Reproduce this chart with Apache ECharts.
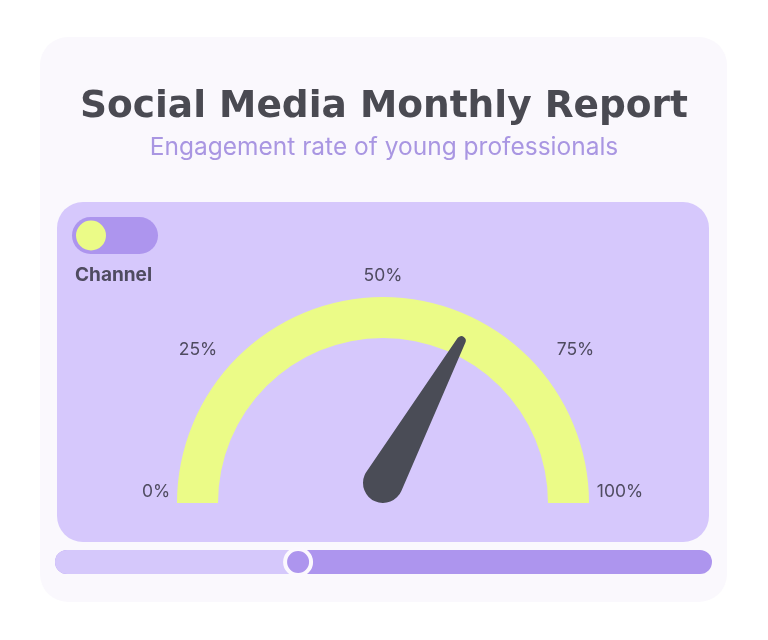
<!DOCTYPE html>
<html>
<head>
<meta charset="utf-8">
<script src="https://cdn.jsdelivr.net/npm/echarts@6/dist/echarts.min.js"></script>
<style>
html,body{margin:0;padding:0;background:#ffffff;}
#main{width:768px;height:640px;}
</style>
</head>
<body>
<div id="main"></div>
<script>
// ---- data ----
var chartTitle = 'Social Media Monthly Report';
var chartSubtitle = 'Engagement rate of young professionals';
var seriesName = 'Channel';
var gaugeValue = [66];
var gaugeMin = 0;
var gaugeMax = 100;
var tickLabels = ['0%', '25%', '50%', '75%', '100%'];
var sliderPosition = [0.37];

// ---- colours ----
var C = {
  card: '#faf8fd', panel: '#d6c8fc', yellow: '#ebfb87', needle: '#4a4c56',
  title: '#4a4a52', subtitle: '#a996e2', label: '#4f4b60',
  toggle: '#ad95ee', sliderLight: '#d5c8fb', sliderDark: '#ad95ee'
};

var chart = echarts.init(document.getElementById('main'), null, {renderer: 'canvas'});

var lblFont = {color: C.label, fontFamily: 'Inter', fontSize: 17.5};
var richLabels = {
  t0: Object.assign({padding: [0, 0, 22, 0]}, lblFont),
  t1: Object.assign({padding: [15, 49, 0, 0]}, lblFont),
  t2: Object.assign({padding: [0, 0, 0, 0]}, lblFont),
  t3: Object.assign({padding: [15, 0, 0, 64]}, lblFont),
  t4: Object.assign({padding: [0, 0, 22, 20]}, lblFont)
};

var trackX0 = 55, trackX1 = 712;
var handleX = trackX0 + (trackX1 - trackX0) * sliderPosition[0];

var option = {
  backgroundColor: '#ffffff',
  title: {
    text: chartTitle,
    subtext: chartSubtitle,
    left: 'center',
    top: 83,
    itemGap: 9,
    textStyle: {fontFamily: 'DejaVu Sans', fontWeight: 700, fontSize: 37.5, color: C.title},
    subtextStyle: {fontFamily: 'Inter', fontWeight: 400, fontSize: 24.5, color: C.subtitle}
  },
  graphic: [
    {type: 'rect', z: -10, shape: {x: 40, y: 37, width: 687, height: 565, r: 28}, style: {fill: C.card}},
    {type: 'rect', z: -9, shape: {x: 57, y: 202, width: 652, height: 340, r: 26}, style: {fill: C.panel}},
    {type: 'rect', z: -8, shape: {x: 72, y: 217, width: 86, height: 37, r: 18.5}, style: {fill: C.toggle}},
    {type: 'circle', z: -7, shape: {cx: 91, cy: 235.5, r: 15}, style: {fill: C.yellow}},
    {type: 'text', z: -7, x: 75, y: 275, style: {text: seriesName, fontFamily: 'Inter', fontWeight: 700, fontSize: 19, fill: C.label, verticalAlign: 'middle', align: 'left'}},
    {type: 'rect', z: -8, shape: {x: trackX0, y: 550, width: trackX1 - trackX0, height: 24, r: 12}, style: {fill: C.sliderDark}},
    {type: 'rect', z: -7, shape: {x: trackX0, y: 550, width: handleX - trackX0, height: 24, r: [12, 0, 0, 12]}, style: {fill: C.sliderLight}},
    {type: 'circle', z: -6, shape: {cx: handleX, cy: 562, r: 13}, style: {fill: C.sliderDark, stroke: '#fbf8fe', lineWidth: 4}}
  ],
  series: [
    {
      type: 'gauge',
      name: seriesName,
      center: [383, 503],
      radius: 206,
      startAngle: 180,
      endAngle: 0,
      min: gaugeMin,
      max: gaugeMax,
      splitNumber: tickLabels.length - 1,
      axisLine: {show: true, roundCap: false, lineStyle: {width: 41, color: [[1, C.yellow]]}},
      splitLine: {show: false, length: 0, distance: 0},
      axisTick: {show: false},
      pointer: {show: false},
      anchor: {show: false},
      title: {show: false},
      detail: {show: false},
      progress: {show: false},
      axisLabel: {
        show: true,
        distance: -21,
        rotate: 0.0001,
        color: C.label,
        fontFamily: 'Inter',
        fontSize: 17.5,
        formatter: function (v) {
          var i = Math.round((v - gaugeMin) / (gaugeMax - gaugeMin) * (tickLabels.length - 1));
          return '{t' + i + '|' + tickLabels[i] + '}';
        },
        rich: richLabels
      },
      data: [{value: gaugeValue[0], name: seriesName}]
    },
    {
      type: 'gauge',
      name: seriesName,
      center: [383, 483],
      radius: 206,
      startAngle: 180,
      endAngle: 0,
      min: gaugeMin,
      max: gaugeMax,
      axisLine: {show: false},
      splitLine: {show: false},
      axisTick: {show: false},
      axisLabel: {show: false},
      anchor: {show: false},
      title: {show: false},
      detail: {show: false},
      pointer: {
        show: true,
        icon: 'path://M15.52 4.07 A4.5 4.5 0 0 1 24.48 4.07 L39.91 165.09 A20 20 0 1 1 0.09 165.09 Z',
        width: 40,
        length: 187,
        offsetCenter: [0, 20],
        itemStyle: {color: C.needle}
      },
      data: [{value: gaugeValue[0], name: seriesName}]
    }
  ]
};
chart.setOption(option);
</script>
</body>
</html>
